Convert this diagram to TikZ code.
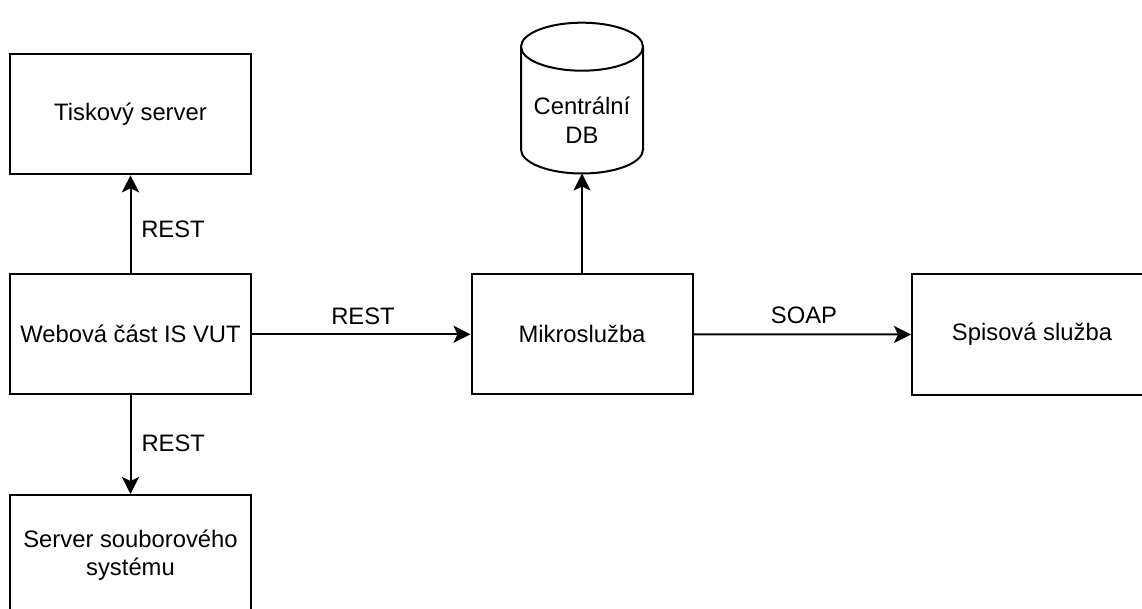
\documentclass[tikz,border=0pt]{standalone}
\usepackage{fontspec}
\setmainfont{Liberation Sans}
\usetikzlibrary{arrows.meta}

\begin{document}
\begin{tikzpicture}[x=1pt, y=-1pt,
  every node/.style={font=\fontsize{23.8}{28.5}\selectfont},
  box/.style={draw, line width=2pt, rectangle, inner sep=0pt,
              align=center, minimum height=120pt},
  wide/.style={box, minimum width=241pt},
  narrow/.style={box, minimum width=221pt},
  lbl/.style={anchor=base, inner sep=0pt},
  link/.style={line width=2pt, -{Stealth[length=17pt, width=17pt, inset=4pt]}}
]
  \useasboundingbox (0,0) rectangle (1142,609);
  \clip (0,0) rectangle (1142,609);

  % left column
  \node[wide] (tisk) at (130.5,114.3) {Tiskový server};
  \node[wide] (web)  at (130.5,334.3) {Webová část IS VUT};
  \node[wide] (fs)   at (130.5,555)   {Server souborového\\systému};

  % middle and right
  \node[narrow] (mikro) at (582,334.3) {Mikroslužba};
  \node[box, minimum width=240pt, minimum height=121pt] (spis) at (1032,334.5) {Spisová služba};

  % database cylinder
  \draw[line width=2pt] (521,46.7) -- (521,149.5)
      arc[start angle=180, end angle=360, x radius=61pt, y radius=24pt]
      -- (643,46.7);
  \draw[line width=2pt] (582,46.7) ellipse [x radius=61pt, y radius=24pt];
  \node[align=center, inner sep=0pt] (db) at (582,120) {Centrální\\DB};
  \coordinate (dbbottom) at (582,173.5);

  % connectors
  \draw[link] (web.north) -- (tisk.south);
  \draw[link] (web.south) -- (fs.north);
  \draw[link] (web.east) -- (mikro.west);
  \draw[link] (mikro.east) -- (spis.west);
  \draw[link] (mikro.north) -- (dbbottom);

  % connector labels
  \node[lbl] (l1) at (173,237.7) {REST};
  \node[lbl] (l2) at (173.3,451.7) {REST};
  \node[lbl] (l3) at (363,324) {REST};
  \node[lbl] (l4) at (804,323.3) {SOAP};
\end{tikzpicture}
\end{document}
